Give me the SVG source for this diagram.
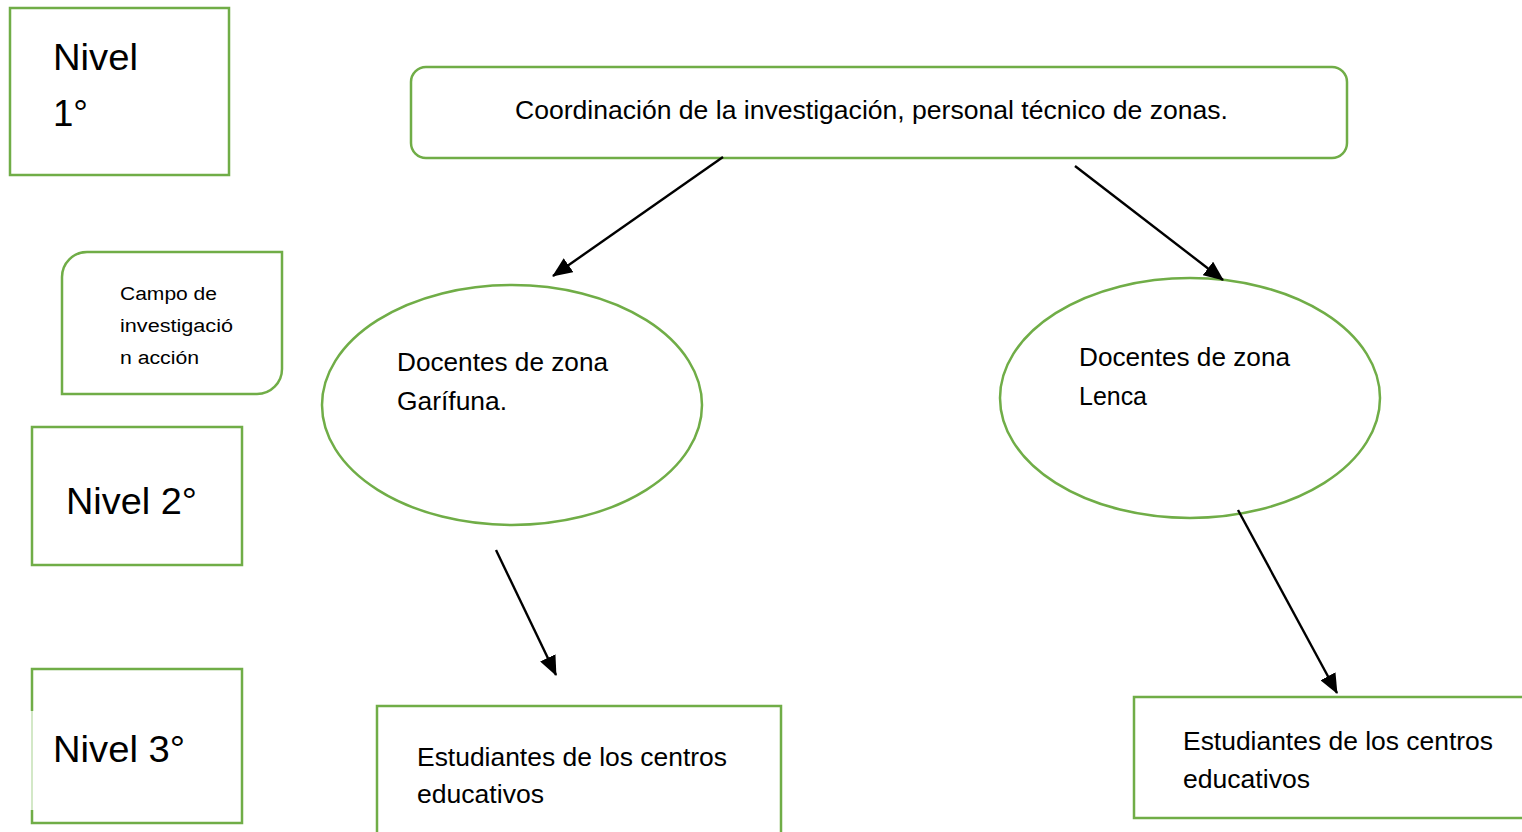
<svg xmlns="http://www.w3.org/2000/svg" width="1522" height="832" viewBox="0 0 1522 832">
<style>
.box{fill:#fff;stroke:#70AD47;stroke-width:2.5}
.t{font-family:"Liberation Sans",Arial,sans-serif;fill:#000}
.big{font-size:37px}
.mid{font-size:25px}
.sm{font-size:18px}
.con{stroke:#000;stroke-width:2.4;fill:none;marker-end:url(#ah)}
</style>
<defs>
<marker id="ah" viewBox="0 0 20 17" refX="19" refY="8.5" markerWidth="20" markerHeight="17" markerUnits="userSpaceOnUse" orient="auto">
<path d="M0,0 L20,8.5 L0,17 z" fill="#000"/>
</marker>
</defs>
<rect width="1522" height="832" fill="#fff"/>
<g id="nivel1">
<rect class="box" x="10" y="8" width="219" height="167"/>
<text class="t big" x="53" y="70" textLength="85" lengthAdjust="spacingAndGlyphs">Nivel</text>
<text class="t big" x="53" y="126" textLength="35" lengthAdjust="spacingAndGlyphs">1°</text>
</g>
<g id="campo">
<path class="box" d="M87,252 H282 V369 A25,25 0 0 1 257,394 H62 V277 A25,25 0 0 1 87,252 Z"/>
<text class="t sm" x="120" y="300" textLength="97" lengthAdjust="spacingAndGlyphs">Campo de</text>
<text class="t sm" x="120" y="332" textLength="113" lengthAdjust="spacingAndGlyphs">investigació</text>
<text class="t sm" x="120" y="364" textLength="79" lengthAdjust="spacingAndGlyphs">n acción</text>
</g>
<g id="nivel2">
<rect class="box" x="32" y="427" width="210" height="138"/>
<text class="t big" x="66" y="514" textLength="131" lengthAdjust="spacingAndGlyphs">Nivel 2°</text>
</g>
<g id="nivel3">
<path class="box" d="M32,711 V669 H242 V823 H32 V810"/>
<line x1="32" y1="711" x2="32" y2="810" stroke="#C5E0B4" stroke-width="1.5"/>
<text class="t big" x="53" y="762" textLength="132" lengthAdjust="spacingAndGlyphs">Nivel 3°</text>
</g>
<g id="coordinacion">
<rect class="box" x="411" y="67" width="936" height="91" rx="15"/>
<text class="t mid" x="515" y="119" textLength="713" lengthAdjust="spacingAndGlyphs">Coordinación de la investigación, personal técnico de zonas.</text>
</g>
<g id="garifuna">
<ellipse class="box" cx="512" cy="405" rx="190" ry="120"/>
<text class="t mid" x="397" y="371" textLength="211" lengthAdjust="spacingAndGlyphs">Docentes de zona</text>
<text class="t mid" x="397" y="410" textLength="110" lengthAdjust="spacingAndGlyphs">Garífuna.</text>
</g>
<g id="lenca">
<ellipse class="box" cx="1190" cy="398" rx="190" ry="120"/>
<text class="t mid" x="1079" y="366" textLength="211" lengthAdjust="spacingAndGlyphs">Docentes de zona</text>
<text class="t mid" x="1079" y="405" textLength="68" lengthAdjust="spacingAndGlyphs">Lenca</text>
</g>
<g id="estudiantes1">
<rect class="box" x="377" y="706" width="404" height="140"/>
<text class="t mid" x="417" y="766" textLength="310" lengthAdjust="spacingAndGlyphs">Estudiantes de los centros</text>
<text class="t mid" x="417" y="803" textLength="127" lengthAdjust="spacingAndGlyphs">educativos</text>
</g>
<g id="estudiantes2">
<rect class="box" x="1134" y="697" width="400" height="121"/>
<text class="t mid" x="1183" y="750" textLength="310" lengthAdjust="spacingAndGlyphs">Estudiantes de los centros</text>
<text class="t mid" x="1183" y="788" textLength="127" lengthAdjust="spacingAndGlyphs">educativos</text>
</g>
<g id="connectors">
<line class="con" x1="723" y1="157" x2="553" y2="276"/>
<line class="con" x1="1075" y1="166" x2="1223" y2="280"/>
<line class="con" x1="496" y1="550" x2="556" y2="675"/>
<line class="con" x1="1238" y1="510" x2="1337" y2="693"/>
</g>
</svg>
